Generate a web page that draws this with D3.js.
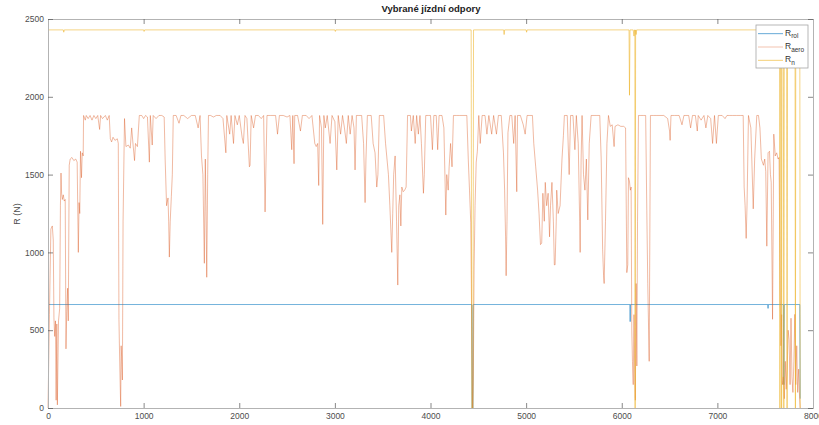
<!DOCTYPE html>
<html><head><meta charset="utf-8">
<script src="https://cdn.jsdelivr.net/npm/d3@7"></script>
<style>
body{margin:0;background:#fff;}
text{font-family:"Liberation Sans",Arial,sans-serif;}
</style></head>
<body><svg id="c" width="819" height="425"></svg>
<script>
const title = "Vybrané jízdní odpory";
const yLabel = "R (N)";
const xTicks = [0,1000,2000,3000,4000,5000,6000,7000,8000];
const yTicks = [0,500,1000,1500,2000,2500];
const seriesNames = ["rol","aero","n"];

const rol = [[0,665],[4432,665],[4434,0],[4444,0],[4446,665],[6085,665],[6088,555],[6091,665],[7527,665],[7530,640],[7533,665],
[7690,665],[7695,150],[7700,665],[7862,665],[7866,60]];

const aero = [[0,0],[15,600],[30,1150],[45,1170],[55,1080],[62,580],[70,460],[78,560],[85,50],[92,540],[98,20],[110,560],[122,640],[130,1300],[136,1510],[142,1380],[150,1340],[160,1370],[170,1330],[180,1340],[188,380],[196,620],[205,770],[212,560],[222,1560],[232,1600],[250,1610],[270,1590],[290,1600],[305,1580],[317,1000],[325,1320],[332,1250],[340,1650],[350,1480],[358,1640],[368,1620],[372,1880],[390,1850],[400,1880],[420,1860],[440,1880],[460,1850],[480,1880],[500,1860],[520,1880],[540,1790],[550,1880],[570,1860],[600,1880],[620,1850],[640,1880],[652,1730],[665,1710],[680,1740],[700,1720],[725,1730],[735,1700],[742,570],[748,360],[755,150],[760,10],[765,400],[770,330],[778,180],[785,1200],[800,1860],[815,1680],[840,1690],[860,1670],[875,1800],[890,1690],[905,1590],[915,1700],[935,1680],[955,1880],[980,1880],[1000,1860],[1020,1880],[1040,1870],[1060,1580],[1070,1880],[1090,1690],[1100,1880],[1130,1860],[1160,1880],[1190,1880],[1215,1870],[1225,1600],[1240,1300],[1255,1350],[1262,1200],[1269,970],[1278,1200],[1290,1360],[1300,1500],[1310,1880],[1340,1880],[1370,1830],[1390,1880],[1420,1880],[1460,1860],[1500,1880],[1540,1880],[1570,1800],[1590,1880],[1605,1620],[1620,1500],[1635,930],[1645,1600],[1652,1300],[1660,840],[1670,1500],[1678,1880],[1700,1880],[1730,1870],[1760,1880],[1800,1880],[1830,1860],[1860,1640],[1870,1880],[1900,1760],[1915,1880],[1940,1700],[1955,1880],[1980,1820],[2000,1880],[2030,1740],[2043,1700],[2060,1880],[2080,1860],[2106,1550],[2113,1560],[2125,1880],[2150,1800],[2170,1880],[2200,1880],[2230,1860],[2255,1880],[2270,1260],[2280,1580],[2290,1880],[2330,1880],[2380,1880],[2400,1760],[2420,1880],[2460,1880],[2500,1870],[2530,1880],[2549,1660],[2560,1880],[2573,1570],[2580,1880],[2610,1880],[2640,1780],[2660,1880],[2700,1880],[2730,1860],[2760,1880],[2790,1700],[2805,1680],[2820,1700],[2831,1430],[2840,1880],[2860,1800],[2873,1180],[2885,1880],[2900,1800],[2920,1880],[2950,1700],[2970,1880],[3000,1840],[3020,1530],[3035,1880],[3060,1760],[3080,1880],[3100,1800],[3120,1700],[3140,1880],[3160,1760],[3180,1880],[3200,1800],[3211,1530],[3225,1880],[3250,1880],[3280,1880],[3300,1700],[3316,1320],[3325,1600],[3340,1880],[3380,1880],[3400,1700],[3420,1640],[3438,1420],[3450,1500],[3465,1880],[3490,1880],[3510,1880],[3530,1700],[3545,1600],[3560,1500],[3575,1300],[3585,1150],[3595,1000],[3605,1250],[3615,1500],[3630,1620],[3645,1200],[3658,790],[3668,1300],[3680,1370],[3690,1170],[3700,1420],[3715,1390],[3730,1400],[3745,1420],[3760,1880],[3790,1880],[3800,1780],[3820,1880],[3840,1700],[3855,1880],[3873,1760],[3890,1880],[3905,1700],[3915,1550],[3926,1380],[3935,1500],[3950,1880],[3980,1880],[4000,1880],[4020,1660],[4035,1880],[4060,1880],[4075,1660],[4090,1880],[4120,1880],[4140,1800],[4160,1240],[4170,1500],[4185,1400],[4195,1550],[4210,1700],[4225,1550],[4240,1880],[4270,1880],[4300,1880],[4340,1880],[4380,1880],[4395,1600],[4408,1400],[4421,1190],[4430,600],[4440,0],[4448,200],[4456,900],[4466,1300],[4478,1580],[4490,1650],[4505,1880],[4520,1700],[4540,1880],[4570,1880],[4590,1760],[4610,1880],[4640,1760],[4660,1880],[4690,1760],[4710,1880],[4740,1880],[4763,1640],[4775,1400],[4785,1100],[4791,850],[4800,1200],[4810,1770],[4830,1880],[4850,1880],[4870,1700],[4885,1880],[4902,1390],[4910,1880],[4940,1880],[4970,1820],[4990,1760],[5010,1880],[5040,1880],[5066,1880],[5080,1700],[5100,1550],[5120,1400],[5135,1250],[5150,1050],[5163,1060],[5175,1380],[5190,1200],[5200,1450],[5215,1300],[5230,1380],[5245,1100],[5255,1300],[5270,1450],[5285,1200],[5295,920],[5303,920],[5315,1200],[5320,1400],[5335,1250],[5355,1300],[5375,1600],[5390,1750],[5400,1880],[5430,1880],[5450,1500],[5465,1880],[5490,1880],[5510,1660],[5525,1880],[5545,1700],[5560,1200],[5565,1000],[5575,1600],[5585,1880],[5600,1500],[5615,1400],[5630,1600],[5645,1209],[5660,1700],[5680,1880],[5710,1880],[5740,1880],[5770,1880],[5785,1600],[5800,1020],[5810,850],[5816,800],[5830,1200],[5845,1700],[5861,1880],[5880,1810],[5900,1820],[5920,1680],[5930,1810],[5960,1820],[5990,1810],[6020,1810],[6040,1800],[6053,870],[6063,920],[6070,1480],[6080,1460],[6090,1400],[6098,1420],[6105,500],[6112,300],[6120,150],[6128,600],[6135,250],[6142,50],[6150,800],[6158,270],[6165,1200],[6175,1880],[6200,1880],[6230,1880],[6250,1880],[6262,1270],[6272,800],[6287,300],[6300,1880],[6330,1880],[6360,1880],[6400,1880],[6440,1880],[6480,1860],[6500,1780],[6506,1720],[6515,1880],[6550,1880],[6600,1880],[6630,1820],[6650,1880],[6700,1880],[6720,1800],[6740,1880],[6770,1880],[6790,1780],[6800,1880],[6830,1850],[6860,1880],[6880,1800],[6900,1880],[6930,1860],[6950,1700],[6970,1880],[6990,1700],[7010,1880],[7050,1880],[7080,1860],[7100,1880],[7130,1880],[7160,1880],[7200,1880],[7240,1880],[7270,1880],[7280,1420],[7290,1300],[7301,1090],[7310,1300],[7325,1880],[7350,1800],[7360,1600],[7375,1280],[7390,1600],[7412,1880],[7430,1880],[7445,1800],[7460,1600],[7482,1560],[7495,1600],[7506,1520],[7517,1040],[7530,1640],[7545,1650],[7555,1500],[7563,1450],[7577,570],[7590,1760],[7605,1620],[7620,1640],[7635,1600],[7645,1610],[7657,700],[7665,400],[7672,600],[7680,150],[7690,200],[7700,60],[7710,300],[7720,120],[7730,250],[7740,500],[7750,440],[7760,150],[7770,577],[7780,200],[7790,100],[7800,300],[7810,602],[7820,150],[7830,400],[7840,100],[7850,250],[7860,60],[7866,0]];

const n = [[0,2430],[160,2430],[165,2415],[170,2430],[1000,2430],[1005,2420],[1010,2430],[3000,2430],[3005,2420],[3010,2430],[4425,2430],[4432,0],[4444,0],[4450,2430],[4765,2430],[4770,2400],[4775,2430],[5000,2430],[5005,2415],[5010,2430],
[6076,2430],[6081,2010],[6086,2430],[6120,2430],[6128,2390],[6134,2430],[6137,2430],[6140,0],[6145,2430],[6150,2400],[6156,2430],
[7650,2430],[7654,0],[7660,2430],[7668,2430],[7672,0],[7676,2430],[7690,2430],[7695,0],[7700,2430],[7724,2430],[7729,0],[7734,2430],[7812,2430],[7816,0],[7820,2430],[7862,2430],[7866,0]];

const colors = {rol:"#0072BD", aero:"#D95319", n:"#EDB120"};

const svg = d3.select("#c");
const x = d3.scaleLinear().domain([0,8000]).range([48,813]);
const y = d3.scaleLinear().domain([0,2500]).range([408,19]);
const axisColor = "#b3b3b3", textColor = "#4d4d4d";

svg.append("rect").attr("x",48).attr("y",19).attr("width",765).attr("height",389).attr("fill","#fff");

function drawSeries(data, color, op, w){
  const g = svg.append("g");
  for(let i=1;i<data.length;i++){
    g.append("line")
      .attr("x1",x(data[i-1][0])).attr("y1",y(data[i-1][1]))
      .attr("x2",x(data[i][0])).attr("y2",y(data[i][1]))
      .attr("stroke",color).attr("stroke-opacity",op).attr("stroke-width",w);
  }
}
drawSeries(rol, colors.rol, 0.55, 1);
drawSeries(aero, colors.aero, 0.4, 1);
drawSeries(n, colors.n, 0.55, 1);

const gx = svg.append("g").attr("transform","translate(0,408)")
  .call(d3.axisBottom(x).tickValues(xTicks).tickSize(-5).tickPadding(3).tickFormat(d3.format("d")));
const gxt = svg.append("g").attr("transform","translate(0,19)")
  .call(d3.axisTop(x).tickValues(xTicks).tickSize(-5).tickFormat(""));
const gy = svg.append("g").attr("transform","translate(48,0)")
  .call(d3.axisLeft(y).tickValues(yTicks).tickSize(-5).tickPadding(4).tickFormat(d3.format("d")));
const gyr = svg.append("g").attr("transform","translate(813,0)")
  .call(d3.axisRight(y).tickValues(yTicks).tickSize(-5).tickFormat(""));
[gx,gxt,gy,gyr].forEach(g=>{
  g.selectAll("path.domain").attr("stroke",axisColor);
  g.selectAll(".tick line").attr("stroke","#555").attr("stroke-width",0.7);
  g.selectAll(".tick text").attr("fill",textColor).attr("font-size",8.5);
});
gx.selectAll(".tick text").attr("dy","0.9em");

svg.append("text").attr("x",431).attr("y",12).attr("text-anchor","middle")
  .attr("font-weight","bold").attr("font-size",9.5).attr("fill","#222").text(title);
svg.append("text").attr("transform","translate(20,214) rotate(-90)").attr("text-anchor","middle")
  .attr("font-size",9).attr("fill",textColor).text(yLabel);

const lg = svg.append("g");
lg.append("rect").attr("x",756).attr("y",25).attr("width",52).attr("height",43)
  .attr("fill","#fff").attr("stroke","#a6a6a6").attr("stroke-width",0.8);
const ly = d3.scaleBand().domain(seriesNames).range([27,67]);
seriesNames.forEach((s,i)=>{
  const yy = ly(s)+ly.bandwidth()/2;
  lg.append("line").attr("x1",758).attr("x2",783).attr("y1",yy).attr("y2",yy)
    .attr("stroke",colors[s]).attr("stroke-opacity",s==="aero"?0.35:0.6).attr("stroke-width",1);
  const t = lg.append("text").attr("x",785).attr("y",yy+2).attr("font-size",8.5).attr("fill","#333");
  t.append("tspan").text("R");
  t.append("tspan").attr("font-size",6.5).attr("dy",2.5).text(s);
});
</script></body></html>
